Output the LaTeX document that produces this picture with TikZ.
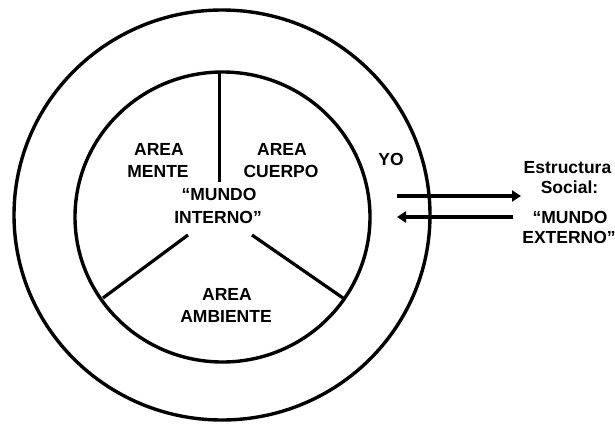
\documentclass[tikz,border=0pt]{standalone}
\usepackage{fontspec}
\setmainfont{Liberation Sans}
\usetikzlibrary{arrows.meta}
\tikzset{
  lbl/.style={font=\bfseries\fontsize{17.5}{22}\selectfont, inner sep=0pt, anchor=base},
  ring/.style={line width=3.4pt},
  divider/.style={line width=3.2pt},
  flow/.style={line width=3.2pt, -{Triangle[length=9pt,width=11pt]}}
}
\begin{document}
\begin{tikzpicture}[x=1pt,y=-1pt]
\fill[white] (0,0) rectangle (615,423);
\useasboundingbox (0,0) rectangle (615,423);
% circles
\draw[ring] (222,215) ellipse [x radius=208, y radius=205];
\draw[ring] (222.5,217) ellipse [x radius=147.5, y radius=145];
% dividers
\coordinate (vt) at (219.5,72);
\coordinate (vb) at (219.5,182);
\coordinate (l1) at (188,235);
\coordinate (l2) at (103,298);
\coordinate (r1) at (252,235);
\coordinate (r2) at (343,298);
\draw[divider] (vt) -- (vb);
\draw[divider] (l1) -- (l2);
\draw[divider] (r1) -- (r2);
% arrows
\coordinate (a1s) at (397,196);
\coordinate (a1e) at (521,196);
\coordinate (a2s) at (513,217);
\coordinate (a2e) at (397,217);
\draw[flow] (a1s) -- (a1e);
\draw[flow] (a2s) -- (a2e);
% labels
\node[lbl] (m1) at (159,155) {AREA};
\node[lbl] (m2) at (158,177) {MENTE};
\node[lbl] (c1) at (282,155) {AREA};
\node[lbl] (c2) at (281,177) {CUERPO};
\node[lbl] (i1) at (219,200) {“MUNDO};
\node[lbl] (i2) at (218,223) {INTERNO”};
\node[lbl] (b1) at (227,300) {AREA};
\node[lbl] (b2) at (226,322) {AMBIENTE};
\node[lbl] (yo) at (391,165) {YO};
\node[lbl] (e1) at (567.5,173) {Estructura};
\node[lbl] (e2) at (569.5,193) {Social:};
\node[lbl] (e3) at (570,223) {“MUNDO};
\node[lbl] (e4) at (569,243) {EXTERNO”};
\end{tikzpicture}
\end{document}
